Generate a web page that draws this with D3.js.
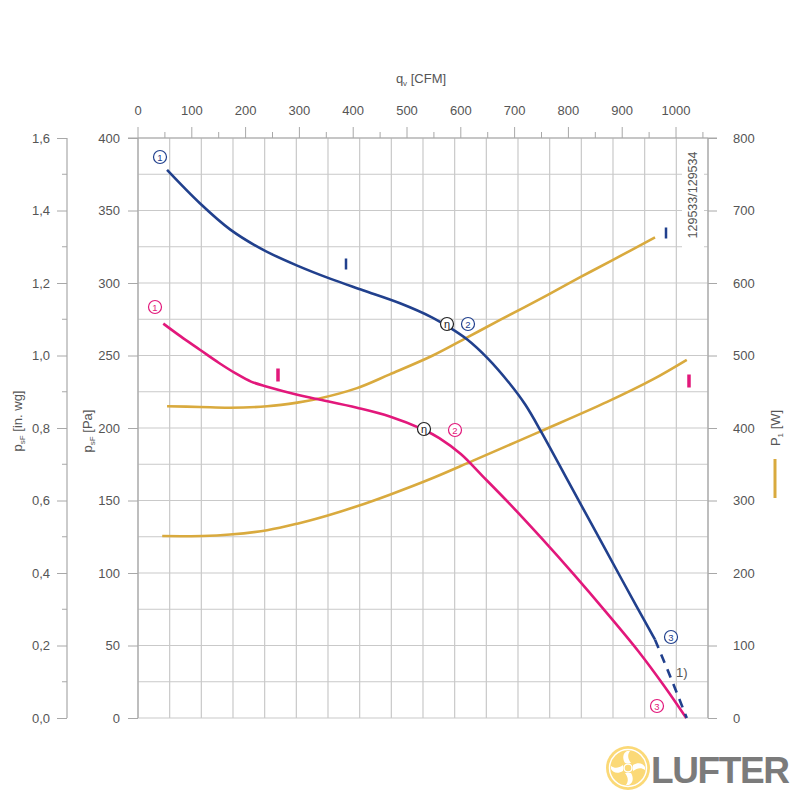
<!DOCTYPE html>
<html><head><meta charset="utf-8">
<script src="https://cdn.jsdelivr.net/npm/d3@7/dist/d3.min.js"></script>
<style>
body{margin:0;background:#fff}
svg{display:block}
text{font-family:"Liberation Sans",Arial,Helvetica,sans-serif}
</style>
</head><body>
<svg id="chart" width="800" height="800"></svg>
<script>
// ---------- data ----------
const cfmTicks = [0,100,200,300,400,500,600,700,800,900,1000];
const paTicks = [0,50,100,150,200,250,300,350,400];
const inwgTicks = [0,0.2,0.4,0.6,0.8,1.0,1.2,1.4,1.6];
const inwgLabels = ["0,0","0,2","0,4","0,6","0,8","1,0","1,2","1,4","1,6"];
const wattTicks = [0,100,200,300,400,500,600,700,800];
const gridM3h = [0,100,200,300,400,500,600,700,800,900,1000,1100,1200,1300,1400,1500,1600,1700,1800];
const M3H_PER_CFM = 1.699;

// Curve I (blue) – static pressure [Pa] vs flow [CFM]
const blueFlow     = [54,115,171,232,296,357,418,487,548,576,612,650,690,720,750,800,850,900,961];
const bluePressure = [378,355,337,323,312,303,295,286,276,270,261,248,231,216,197,163,129,95,54];
// Curve I (blue) – dashed extension 1)
const blueDashFlow     = [961,990,1020];
const blueDashPressure = [54,28,0];
// Curve I (magenta) – static pressure [Pa]
const pinkFlow     = [47,80,115,150,180,210,240,296,333,407,468,530,560,600,640,690,750,810,870,930,980,1019];
const pinkPressure = [272,263,254,245,238,232,228.5,223,220,214,208,199,193,182,167,148,124,99,73,46,21,0];
// Power input P1 [W] (gold) for blue curve
const bluePowerFlow = [54,115,171,240,296,333,407,468,548,612,673,760,822,883,961];
const bluePower     = [430,429,428,430,435,440,455,474,500,525,549,583,608,632,663];
// Power input P1 [W] (gold) for magenta curve
const pinkPowerFlow = [45,120,171,240,296,351,407,468,548,623,747,872,957,1020];
const pinkPower     = [251,251,253,259,268,279,292,308,331,355,395,436,467,494];

// operating point markers
const markerLabels = ["1","2","3","η"];

// ---------- drawing ----------
const BLUE = "#21408d", PINK = "#e2187b", GOLD = "#d9aa3e", GRID = "#c9c9c9", AXIS = "#a8a8a8", TXT = "#555";
const svg = d3.select("#chart");

const x = d3.scaleLinear().domain([0, 1800 / M3H_PER_CFM]).range([138, 708]);
const yPa = d3.scaleLinear().domain([0, 400]).range([718, 138]);
const yIn = d3.scaleLinear().domain([0, 1.6]).range([718, 138]);
const yW = d3.scaleLinear().domain([0, 800]).range([718, 138]);

// grid
const g = svg.append("g");
g.selectAll("line.v").data(gridM3h).join("line")
  .attr("x1", d => x(d / M3H_PER_CFM)).attr("x2", d => x(d / M3H_PER_CFM))
  .attr("y1", yPa(400)).attr("y2", yPa(0))
  .attr("stroke", GRID).attr("stroke-width", 1.2);
g.selectAll("line.h").data(d3.range(0, 401, 25)).join("line")
  .attr("x1", x(0)).attr("x2", x(1800 / M3H_PER_CFM))
  .attr("y1", d => yPa(d)).attr("y2", d => yPa(d))
  .attr("stroke", GRID).attr("stroke-width", 1.2);

// top CFM axis
const topAx = svg.append("g").attr("transform", `translate(0,${yPa(400)})`);
topAx.selectAll("line.tk").data(d3.range(0, 1051, 50)).join("line")
  .attr("x1", d => x(d)).attr("x2", d => x(d))
  .attr("y1", 0).attr("y2", d => d % 100 === 0 ? -11 : -6)
  .attr("stroke", AXIS).attr("stroke-width", 1);
topAx.selectAll("text.tl").data(cfmTicks).join("text")
  .attr("x", d => x(d)).attr("y", -23).attr("text-anchor", "middle")
  .attr("font-size", 13).attr("fill", TXT).text(d => d);
const qt = svg.append("text").attr("x", 421).attr("y", 83).attr("text-anchor", "middle")
  .attr("font-size", 13).attr("fill", TXT);
qt.append("tspan").text("q");
qt.append("tspan").attr("font-size", 8).attr("dy", 3).text("v");
qt.append("tspan").attr("dy", -3).text(" [CFM]");
svg.append("line").attr("x1", 128).attr("x2", 717).attr("y1", yPa(400)).attr("y2", yPa(400))
  .attr("stroke", AXIS).attr("stroke-width", 1.2);

// Pa axis (inner left)
const pa = svg.append("g").attr("transform", "translate(138,0)");
pa.call(d3.axisLeft(yPa).tickValues(paTicks).tickSize(10).tickPadding(8));
pa.select(".domain").attr("stroke", AXIS).attr("stroke-width", 1.2).attr("d", `M0,${yPa(400)}V${yPa(0)}`);
pa.selectAll(".tick line").attr("stroke", AXIS);
pa.selectAll(".tick text").attr("font-size", 13).attr("fill", TXT).attr("font-family", "Liberation Sans, Arial, sans-serif");

// in. wg axis (outer left)
const iw = svg.append("g").attr("transform", "translate(67,0)");
iw.call(d3.axisLeft(yIn).tickValues(inwgTicks).tickSize(10).tickPadding(7).tickFormat((d, i) => inwgLabels[i]));
iw.select(".domain").attr("stroke", AXIS).attr("stroke-width", 1.2).attr("d", `M0,${yIn(1.6)}V${yIn(0)}`);
iw.selectAll(".tick line").attr("stroke", AXIS);
iw.selectAll(".tick text").attr("font-size", 13).attr("fill", TXT).attr("font-family", "Liberation Sans, Arial, sans-serif");
iw.selectAll("line.minor").data(d3.range(0.1, 1.6, 0.2)).join("line")
  .attr("x1", -5).attr("x2", 0).attr("y1", d => yIn(d)).attr("y2", d => yIn(d))
  .attr("stroke", AXIS);

// right W axis
const rw = svg.append("g").attr("transform", "translate(708,0)");
rw.call(d3.axisRight(yW).tickValues(wattTicks).tickSize(9).tickPadding(16));
rw.select(".domain").attr("stroke", AXIS).attr("stroke-width", 1.2).attr("d", `M0,${yW(800)}V${yW(0)}`);
rw.selectAll(".tick line").attr("stroke", AXIS);
rw.selectAll(".tick text").attr("font-size", 13).attr("fill", TXT).attr("font-family", "Liberation Sans, Arial, sans-serif");

// axis titles
function subTitle(xp, yp, main, sub, rest) {
  const t = svg.append("text").attr("transform", `translate(${xp},${yp}) rotate(-90)`)
    .attr("text-anchor", "middle").attr("font-size", 13).attr("fill", TXT);
  t.append("tspan").text(main);
  t.append("tspan").attr("font-size", 8).attr("dy", 3).text(sub);
  t.append("tspan").attr("dy", -3).text(rest);
}
subTitle(22, 421, "p", "sF", " [in. wg]");
subTitle(92, 431, "p", "sF", " [Pa]");
subTitle(780, 428, "P", "1", " [W]");
svg.append("line").attr("x1", 775).attr("x2", 775).attr("y1", 459).attr("y2", 498)
  .attr("stroke", GOLD).attr("stroke-width", 3);

// article number
svg.append("rect").attr("x", 682).attr("y", 140).attr("width", 22).attr("height", 112).attr("fill", "#fff");
svg.append("text").attr("transform", "translate(697,195) rotate(-90)").attr("text-anchor", "middle")
  .attr("font-size", 12.5).attr("fill", TXT).text("129533/129534");

// curves
const line = d3.line().curve(d3.curveCatmullRom.alpha(0.5));
function curve(fx, fy, ys, color, dash) {
  const pts = fx.map((d, i) => [x(d), ys(fy[i])]);
  svg.append("path").attr("d", line(pts)).attr("fill", "none").attr("stroke", color)
    .attr("stroke-width", 2.6).attr("stroke-linejoin", "round").attr("stroke-dasharray", dash || null);
}
curve(bluePowerFlow, bluePower, yW, GOLD);
curve(pinkPowerFlow, pinkPower, yW, GOLD);
curve(pinkFlow, pinkPressure, yPa, PINK);
curve(blueFlow, bluePressure, yPa, BLUE);
curve(blueDashFlow, blueDashPressure, yPa, BLUE, "9,7");

// markers
function marker(cx, cy, label, color) {
  svg.append("circle").attr("cx", cx).attr("cy", cy).attr("r", 6.5)
    .attr("fill", "#fff").attr("stroke", color).attr("stroke-width", 1.2);
  svg.append("text").attr("x", cx).attr("y", cy + 3.5).attr("text-anchor", "middle")
    .attr("font-size", label === "η" ? 11 : 9.5).attr("fill", color).text(label);
}
marker(160, 157, markerLabels[0], BLUE);
marker(155, 307, markerLabels[0], PINK);
marker(447, 324, markerLabels[3], "#222");
marker(468, 324, markerLabels[1], BLUE);
marker(424, 429, markerLabels[3], "#222");
marker(455, 430, markerLabels[1], PINK);
marker(671, 637, markerLabels[2], BLUE);
marker(657, 706, markerLabels[2], PINK);
svg.append("text").attr("x", 676).attr("y", 677).attr("font-size", 13).attr("fill", TXT).text("1)");

// curve identifiers "I"
function bar(cx, cy, color, w, h) {
  svg.append("rect").attr("x", cx - w / 2).attr("y", cy - h / 2).attr("width", w).attr("height", h).attr("fill", color);
}
bar(346, 264, BLUE, 2.5, 11);
bar(278, 375, PINK, 3.5, 13);
bar(666, 233, BLUE, 2.5, 11);
bar(689, 381, PINK, 3.5, 13);

// logo
const logo = svg.append("g").attr("transform", "translate(628,768)");
logo.append("circle").attr("r", 22).attr("fill", "#fbd977");
logo.append("circle").attr("r", 18.5).attr("fill", "none").attr("stroke", "#fff").attr("stroke-width", 1.5);
[0, 90, 180, 270].forEach(a => {
  logo.append("path").attr("transform", `rotate(${a})`)
    .attr("d", "M-3,-5 C-6,-10 -5,-15 -1,-17 L2,-17 C-1,-13 0,-9 3,-5 Z").attr("fill", "#fff");
});
logo.append("circle").attr("r", 4).attr("fill", "none").attr("stroke", "#fff").attr("stroke-width", 1.5);
svg.append("text").attr("x", 651).attr("y", 783).attr("font-size", 37).attr("font-weight", "bold")
  .attr("fill", "#7b7b7b").attr("textLength", 139).text("LUFTER");
</script>
</body></html>
